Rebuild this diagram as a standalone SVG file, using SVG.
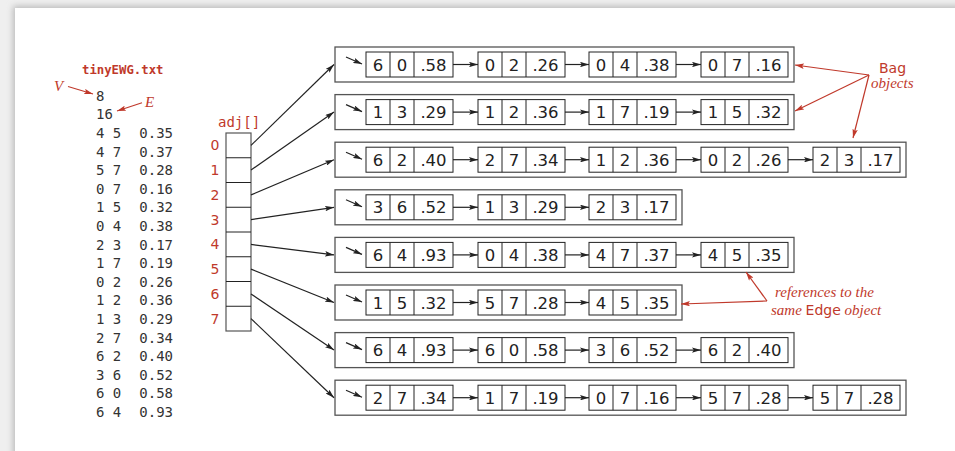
<svg xmlns="http://www.w3.org/2000/svg" xmlns:xlink="http://www.w3.org/1999/xlink" width="955" height="451" viewBox="0 0 955 451">
<style>
.bag{fill:#fff;stroke:#555;stroke-width:1.3}
.cell{fill:#fff;stroke:#222;stroke-width:1}
.nt{font-family:"DejaVu Sans",sans-serif;font-size:16.5px;fill:#222;text-anchor:middle}
.lst{font-family:"DejaVu Sans Mono",monospace;font-size:14px;fill:#333}
.red{fill:#c0392b}
.idx{font-family:"DejaVu Sans",sans-serif;font-size:14px;text-anchor:middle}
.ital{font-family:"Liberation Serif",serif;font-style:italic;font-size:15px}
.sans{font-family:"DejaVu Sans",sans-serif;font-style:normal;font-size:14px}
.blk{stroke:#222;stroke-width:1.2;fill:none;marker-end:url(#ah)}
.rl{stroke:#c0392b;stroke-width:1.2;fill:none;marker-end:url(#rah)}
</style>
<defs>
<marker id="ah" viewBox="0 0 10 6" refX="10" refY="3" markerWidth="9" markerHeight="5.4" markerUnits="userSpaceOnUse" orient="auto"><path d="M0,0 L10,3 L0,6 L2,3 Z" fill="#222"/></marker>
<marker id="rah" viewBox="0 0 10 6" refX="10" refY="3" markerWidth="9" markerHeight="5.4" markerUnits="userSpaceOnUse" orient="auto"><path d="M0,0 L10,3 L0,6 L2,3 Z" fill="#c0392b"/></marker>
<g id="nd"><rect class="cell" x="0" y="0" width="87" height="25"/><line x1="24" y1="0" x2="24" y2="25" stroke="#222"/><line x1="48" y1="0" x2="48" y2="25" stroke="#222"/></g>
<filter id="sh" x="-5%" y="-5%" width="110%" height="110%"><feGaussianBlur stdDeviation="3"/></filter>
</defs>
<rect width="955" height="451" fill="#efefef"/>
<rect x="13" y="6" width="960" height="460" fill="#bbb" filter="url(#sh)"/>
<rect x="15" y="8" width="945" height="450" fill="#fff"/>

<g id="file">
<text x="82" y="74" class="red" font-family="DejaVu Sans Mono,monospace" font-size="12.3" font-weight="bold">tinyEWG.txt</text>
<g class="lst">
<text x="96" y="100.7">8</text>
<text x="96" y="119.3">16</text>
<text y="137.9"><tspan x="96">4 5</tspan><tspan x="139.3">0.35</tspan></text>
<text y="156.5"><tspan x="96">4 7</tspan><tspan x="139.3">0.37</tspan></text>
<text y="175.1"><tspan x="96">5 7</tspan><tspan x="139.3">0.28</tspan></text>
<text y="193.7"><tspan x="96">0 7</tspan><tspan x="139.3">0.16</tspan></text>
<text y="212.3"><tspan x="96">1 5</tspan><tspan x="139.3">0.32</tspan></text>
<text y="230.9"><tspan x="96">0 4</tspan><tspan x="139.3">0.38</tspan></text>
<text y="249.5"><tspan x="96">2 3</tspan><tspan x="139.3">0.17</tspan></text>
<text y="268.1"><tspan x="96">1 7</tspan><tspan x="139.3">0.19</tspan></text>
<text y="286.7"><tspan x="96">0 2</tspan><tspan x="139.3">0.26</tspan></text>
<text y="305.3"><tspan x="96">1 2</tspan><tspan x="139.3">0.36</tspan></text>
<text y="323.9"><tspan x="96">1 3</tspan><tspan x="139.3">0.29</tspan></text>
<text y="342.5"><tspan x="96">2 7</tspan><tspan x="139.3">0.34</tspan></text>
<text y="361.1"><tspan x="96">6 2</tspan><tspan x="139.3">0.40</tspan></text>
<text y="379.7"><tspan x="96">3 6</tspan><tspan x="139.3">0.52</tspan></text>
<text y="398.3"><tspan x="96">6 0</tspan><tspan x="139.3">0.58</tspan></text>
<text y="416.9"><tspan x="96">6 4</tspan><tspan x="139.3">0.93</tspan></text>
</g>
<text x="54" y="91" class="red ital" font-size="16">V</text>
<text x="145" y="107" class="red ital" font-size="16">E</text>
</g>

<g id="adj">
<text x="218" y="127" class="red" font-family="DejaVu Sans Mono,monospace" font-size="14">adj[]</text>
<rect x="226" y="133" width="25" height="198" fill="#fff" stroke="#555" stroke-width="1.2"/>
<g stroke="#222" stroke-width="1">
<line x1="226" y1="157.75" x2="251" y2="157.75"/>
<line x1="226" y1="182.5" x2="251" y2="182.5"/>
<line x1="226" y1="207.25" x2="251" y2="207.25"/>
<line x1="226" y1="232" x2="251" y2="232"/>
<line x1="226" y1="256.75" x2="251" y2="256.75"/>
<line x1="226" y1="281.5" x2="251" y2="281.5"/>
<line x1="226" y1="306.25" x2="251" y2="306.25"/>
</g>
<g class="red idx">
<text x="215" y="150.4">0</text>
<text x="215" y="175.1">1</text>
<text x="215" y="199.9">2</text>
<text x="215" y="224.6">3</text>
<text x="215" y="249.4">4</text>
<text x="215" y="274.1">5</text>
<text x="215" y="298.9">6</text>
<text x="215" y="323.6">7</text>
</g>
</g>

<g id="bag0">
<rect class="bag" x="335" y="47" width="459" height="35"/>
<g id="b0n0"><use xlink:href="#nd" x="366" y="52"/><text class="nt" y="70.5"><tspan x="378">6</tspan><tspan x="402">0</tspan><tspan x="433.5">.58</tspan></text></g>
<g id="b0n1"><use xlink:href="#nd" x="478" y="52"/><text class="nt" y="70.5"><tspan x="490">0</tspan><tspan x="514">2</tspan><tspan x="545.5">.26</tspan></text></g>
<g id="b0n2"><use xlink:href="#nd" x="589" y="52"/><text class="nt" y="70.5"><tspan x="601">0</tspan><tspan x="625">4</tspan><tspan x="656.5">.38</tspan></text></g>
<g id="b0n3"><use xlink:href="#nd" x="701" y="52"/><text class="nt" y="70.5"><tspan x="713">0</tspan><tspan x="737">7</tspan><tspan x="768.5">.16</tspan></text></g>
</g>

<g id="bag1">
<rect class="bag" x="335" y="94.6" width="459" height="35"/>
<g id="b1n0"><use xlink:href="#nd" x="366" y="99.6"/><text class="nt" y="118.1"><tspan x="378">1</tspan><tspan x="402">3</tspan><tspan x="433.5">.29</tspan></text></g>
<g id="b1n1"><use xlink:href="#nd" x="478" y="99.6"/><text class="nt" y="118.1"><tspan x="490">1</tspan><tspan x="514">2</tspan><tspan x="545.5">.36</tspan></text></g>
<g id="b1n2"><use xlink:href="#nd" x="589" y="99.6"/><text class="nt" y="118.1"><tspan x="601">1</tspan><tspan x="625">7</tspan><tspan x="656.5">.19</tspan></text></g>
<g id="b1n3"><use xlink:href="#nd" x="701" y="99.6"/><text class="nt" y="118.1"><tspan x="713">1</tspan><tspan x="737">5</tspan><tspan x="768.5">.32</tspan></text></g>
</g>

<g id="bag2">
<rect class="bag" x="335" y="142.2" width="571" height="35"/>
<g id="b2n0"><use xlink:href="#nd" x="366" y="147.2"/><text class="nt" y="165.7"><tspan x="378">6</tspan><tspan x="402">2</tspan><tspan x="433.5">.40</tspan></text></g>
<g id="b2n1"><use xlink:href="#nd" x="478" y="147.2"/><text class="nt" y="165.7"><tspan x="490">2</tspan><tspan x="514">7</tspan><tspan x="545.5">.34</tspan></text></g>
<g id="b2n2"><use xlink:href="#nd" x="589" y="147.2"/><text class="nt" y="165.7"><tspan x="601">1</tspan><tspan x="625">2</tspan><tspan x="656.5">.36</tspan></text></g>
<g id="b2n3"><use xlink:href="#nd" x="701" y="147.2"/><text class="nt" y="165.7"><tspan x="713">0</tspan><tspan x="737">2</tspan><tspan x="768.5">.26</tspan></text></g>
<g id="b2n4"><use xlink:href="#nd" x="813" y="147.2"/><text class="nt" y="165.7"><tspan x="825">2</tspan><tspan x="849">3</tspan><tspan x="880.5">.17</tspan></text></g>
</g>

<g id="bag3">
<rect class="bag" x="335" y="189.8" width="347" height="35"/>
<g id="b3n0"><use xlink:href="#nd" x="366" y="194.8"/><text class="nt" y="213.3"><tspan x="378">3</tspan><tspan x="402">6</tspan><tspan x="433.5">.52</tspan></text></g>
<g id="b3n1"><use xlink:href="#nd" x="478" y="194.8"/><text class="nt" y="213.3"><tspan x="490">1</tspan><tspan x="514">3</tspan><tspan x="545.5">.29</tspan></text></g>
<g id="b3n2"><use xlink:href="#nd" x="589" y="194.8"/><text class="nt" y="213.3"><tspan x="601">2</tspan><tspan x="625">3</tspan><tspan x="656.5">.17</tspan></text></g>
</g>

<g id="bag4">
<rect class="bag" x="335" y="237.4" width="459" height="35"/>
<g id="b4n0"><use xlink:href="#nd" x="366" y="242.4"/><text class="nt" y="260.9"><tspan x="378">6</tspan><tspan x="402">4</tspan><tspan x="433.5">.93</tspan></text></g>
<g id="b4n1"><use xlink:href="#nd" x="478" y="242.4"/><text class="nt" y="260.9"><tspan x="490">0</tspan><tspan x="514">4</tspan><tspan x="545.5">.38</tspan></text></g>
<g id="b4n2"><use xlink:href="#nd" x="589" y="242.4"/><text class="nt" y="260.9"><tspan x="601">4</tspan><tspan x="625">7</tspan><tspan x="656.5">.37</tspan></text></g>
<g id="b4n3"><use xlink:href="#nd" x="701" y="242.4"/><text class="nt" y="260.9"><tspan x="713">4</tspan><tspan x="737">5</tspan><tspan x="768.5">.35</tspan></text></g>
</g>

<g id="bag5">
<rect class="bag" x="335" y="285" width="347" height="35"/>
<g id="b5n0"><use xlink:href="#nd" x="366" y="290"/><text class="nt" y="308.5"><tspan x="378">1</tspan><tspan x="402">5</tspan><tspan x="433.5">.32</tspan></text></g>
<g id="b5n1"><use xlink:href="#nd" x="478" y="290"/><text class="nt" y="308.5"><tspan x="490">5</tspan><tspan x="514">7</tspan><tspan x="545.5">.28</tspan></text></g>
<g id="b5n2"><use xlink:href="#nd" x="589" y="290"/><text class="nt" y="308.5"><tspan x="601">4</tspan><tspan x="625">5</tspan><tspan x="656.5">.35</tspan></text></g>
</g>

<g id="bag6">
<rect class="bag" x="335" y="332.6" width="459" height="35"/>
<g id="b6n0"><use xlink:href="#nd" x="366" y="337.6"/><text class="nt" y="356.1"><tspan x="378">6</tspan><tspan x="402">4</tspan><tspan x="433.5">.93</tspan></text></g>
<g id="b6n1"><use xlink:href="#nd" x="478" y="337.6"/><text class="nt" y="356.1"><tspan x="490">6</tspan><tspan x="514">0</tspan><tspan x="545.5">.58</tspan></text></g>
<g id="b6n2"><use xlink:href="#nd" x="589" y="337.6"/><text class="nt" y="356.1"><tspan x="601">3</tspan><tspan x="625">6</tspan><tspan x="656.5">.52</tspan></text></g>
<g id="b6n3"><use xlink:href="#nd" x="701" y="337.6"/><text class="nt" y="356.1"><tspan x="713">6</tspan><tspan x="737">2</tspan><tspan x="768.5">.40</tspan></text></g>
</g>

<g id="bag7">
<rect class="bag" x="335" y="380.2" width="571" height="35"/>
<g id="b7n0"><use xlink:href="#nd" x="366" y="385.2"/><text class="nt" y="403.7"><tspan x="378">2</tspan><tspan x="402">7</tspan><tspan x="433.5">.34</tspan></text></g>
<g id="b7n1"><use xlink:href="#nd" x="478" y="385.2"/><text class="nt" y="403.7"><tspan x="490">1</tspan><tspan x="514">7</tspan><tspan x="545.5">.19</tspan></text></g>
<g id="b7n2"><use xlink:href="#nd" x="589" y="385.2"/><text class="nt" y="403.7"><tspan x="601">0</tspan><tspan x="625">7</tspan><tspan x="656.5">.16</tspan></text></g>
<g id="b7n3"><use xlink:href="#nd" x="701" y="385.2"/><text class="nt" y="403.7"><tspan x="713">5</tspan><tspan x="737">7</tspan><tspan x="768.5">.28</tspan></text></g>
<g id="b7n4"><use xlink:href="#nd" x="813" y="385.2"/><text class="nt" y="403.7"><tspan x="825">5</tspan><tspan x="849">7</tspan><tspan x="880.5">.28</tspan></text></g>
</g>

<g id="annotations">
<text x="879" y="73" class="red sans">Bag</text>
<text x="871" y="88" class="red ital">objects</text>
<text x="775" y="297" class="red ital">references to the</text>
<text x="771" y="315" class="red ital">same <tspan class="sans">Edge</tspan> object</text>
</g>

<g id="connectors">
<g class="blk">
<line x1="251" y1="145.4" x2="334" y2="64.5"/>
<line x1="251" y1="170.1" x2="334" y2="112.1"/>
<line x1="251" y1="194.9" x2="334" y2="159.7"/>
<line x1="251" y1="219.6" x2="334" y2="207.3"/>
<line x1="251" y1="244.4" x2="334" y2="254.9"/>
<line x1="251" y1="269.1" x2="334" y2="302.5"/>
<line x1="251" y1="293.9" x2="334" y2="350.1"/>
<line x1="251" y1="318.6" x2="334" y2="397.7"/>

<line x1="346" y1="57" x2="362" y2="64"/>
<line x1="346" y1="104.6" x2="362" y2="111.6"/>
<line x1="346" y1="152.2" x2="362" y2="159.2"/>
<line x1="346" y1="199.8" x2="362" y2="206.8"/>
<line x1="346" y1="247.4" x2="362" y2="254.4"/>
<line x1="346" y1="295" x2="362" y2="302"/>
<line x1="346" y1="342.6" x2="362" y2="349.6"/>
<line x1="346" y1="390.2" x2="362" y2="397.2"/>

<line x1="453" y1="64.5" x2="478" y2="64.5"/><line x1="565" y1="64.5" x2="589" y2="64.5"/><line x1="676" y1="64.5" x2="701" y2="64.5"/>
<line x1="453" y1="112.1" x2="478" y2="112.1"/><line x1="565" y1="112.1" x2="589" y2="112.1"/><line x1="676" y1="112.1" x2="701" y2="112.1"/>
<line x1="453" y1="159.7" x2="478" y2="159.7"/><line x1="565" y1="159.7" x2="589" y2="159.7"/><line x1="676" y1="159.7" x2="701" y2="159.7"/><line x1="788" y1="159.7" x2="813" y2="159.7"/>
<line x1="453" y1="207.3" x2="478" y2="207.3"/><line x1="565" y1="207.3" x2="589" y2="207.3"/>
<line x1="453" y1="254.9" x2="478" y2="254.9"/><line x1="565" y1="254.9" x2="589" y2="254.9"/><line x1="676" y1="254.9" x2="701" y2="254.9"/>
<line x1="453" y1="302.5" x2="478" y2="302.5"/><line x1="565" y1="302.5" x2="589" y2="302.5"/>
<line x1="453" y1="350.1" x2="478" y2="350.1"/><line x1="565" y1="350.1" x2="589" y2="350.1"/><line x1="676" y1="350.1" x2="701" y2="350.1"/>
<line x1="453" y1="397.7" x2="478" y2="397.7"/><line x1="565" y1="397.7" x2="589" y2="397.7"/><line x1="676" y1="397.7" x2="701" y2="397.7"/><line x1="788" y1="397.7" x2="813" y2="397.7"/>
</g>
<g class="rl">
<line x1="68" y1="86.5" x2="93" y2="94"/>
<line x1="142" y1="102.7" x2="117" y2="111"/>
<line x1="869" y1="75" x2="795" y2="65"/>
<line x1="869" y1="75" x2="795" y2="111"/>
<line x1="869" y1="75" x2="853" y2="138"/>
<line x1="767" y1="301" x2="746" y2="272"/>
<line x1="767" y1="301" x2="681" y2="304"/>
</g>
</g>
</svg>
